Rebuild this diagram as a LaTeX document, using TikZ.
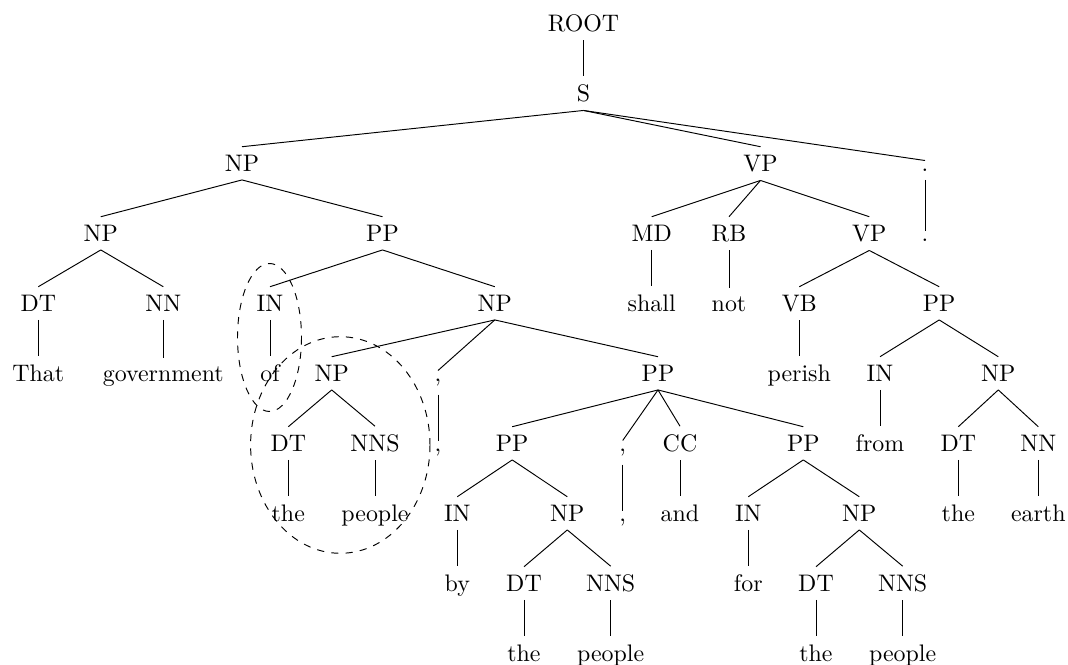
\documentclass[tikz,border=0pt]{standalone}
\begin{document}
\begin{tikzpicture}[x=0.4184pt,y=-0.4184pt,
  t/.style={anchor=base},
  edge/.style={line width=0.4pt},
  group/.style={dashed, line width=0.4pt}]
\useasboundingbox (0,0) rectangle (1068,665);
% row 0-2
\node[t] (root) at (583.5,31.5) {ROOT};
\node[t] (s) at (583.5,101.5) {S};
\node[t] (np1) at (242,171.5) {NP};
\node[t] (vp1) at (760.5,171.5) {VP};
\node[t] (pd1) at (925,171.5) {.};
% row 3
\node[t] (np2) at (100.8,241.5) {NP};
\node[t] (pp1) at (382.5,241.5) {PP};
\node[t] (md) at (651.7,241.5) {MD};
\node[t] (rb) at (729,241.5) {RB};
\node[t] (vp2) at (869.3,241.5) {VP};
\node[t] (pd2) at (925,241.5) {.};
% row 4
\node[t] (dt1) at (38.3,311.5) {DT};
\node[t] (nn1) at (163.3,311.5) {NN};
\node[t] (in1) at (270,311.5) {IN};
\node[t] (np3) at (494.8,311.5) {NP};
\node[t] (shall) at (651.7,311.5) {shall};
\node[t] (not) at (729,311.5) {not};
\node[t] (vb) at (799.3,311.5) {VB};
\node[t] (pp2) at (939.2,311.5) {PP};
% row 5
\node[t] (that) at (38.3,381.5) {That};
\node[t] (gov) at (163.3,381.5) {government};
\node[t] (of) at (270,381.5) {of};
\node[t] (np4) at (331.7,381.5) {NP};
\node[t] (cm1) at (438,381.5) {,};
\node[t] (pp3) at (658,381.5) {PP};
\node[t] (perish) at (799.3,381.5) {perish};
\node[t] (in2) at (880,381.5) {IN};
\node[t] (np5) at (998.3,381.5) {NP};
% row 6
\node[t] (dt2) at (288.3,451.5) {DT};
\node[t] (nns1) at (375,451.5) {NNS};
\node[t] (cm2) at (438,451.5) {,};
\node[t] (pp4) at (512.2,451.5) {PP};
\node[t] (cm3) at (622.7,451.5) {,};
\node[t] (cc) at (680,451.5) {CC};
\node[t] (pp5) at (803.3,451.5) {PP};
\node[t] (from) at (880,451.5) {from};
\node[t] (dt3) at (958.3,451.5) {DT};
\node[t] (nn2) at (1038.3,451.5) {NN};
% row 7
\node[t] (the1) at (288.3,521.5) {the};
\node[t] (people1) at (375,521.5) {people};
\node[t] (in3) at (457.3,521.5) {IN};
\node[t] (np6) at (567.3,521.5) {NP};
\node[t] (cm4) at (622.7,521.5) {,};
\node[t] (and) at (680,521.5) {and};
\node[t] (in4) at (748.3,521.5) {IN};
\node[t] (np7) at (859.3,521.5) {NP};
\node[t] (the2) at (958.3,521.5) {the};
\node[t] (earth) at (1038.3,521.5) {earth};
% row 8
\node[t] (by) at (457.3,591.5) {by};
\node[t] (dt4) at (524,591.5) {DT};
\node[t] (nns2) at (610.7,591.5) {NNS};
\node[t] (for) at (748.3,591.5) {for};
\node[t] (dt5) at (816,591.5) {DT};
\node[t] (nns3) at (902.7,591.5) {NNS};
% row 9
\node[t] (the3) at (524,661.5) {the};
\node[t] (people2) at (610.7,661.5) {people};
\node[t] (the4) at (816,661.5) {the};
\node[t] (people3) at (902.7,661.5) {people};
% tree edges, parent/child
\foreach \p/\c in {root/s, s/np1, s/vp1, s/pd1,
  np1/np2, np1/pp1, vp1/md, vp1/rb, vp1/vp2, pd1/pd2,
  np2/dt1, np2/nn1, pp1/in1, pp1/np3, md/shall, rb/not, vp2/vb, vp2/pp2,
  dt1/that, nn1/gov, in1/of, np3/np4, np3/cm1, np3/pp3, vb/perish, pp2/in2, pp2/np5,
  np4/dt2, np4/nns1, cm1/cm2, pp3/pp4, pp3/cm3, pp3/cc, pp3/pp5, in2/from, np5/dt3, np5/nn2,
  dt2/the1, nns1/people1, pp4/in3, pp4/np6, cm3/cm4, cc/and, pp5/in4, pp5/np7, dt3/the2, nn2/earth,
  in3/by, np6/dt4, np6/nns2, in4/for, np7/dt5, np7/nns3,
  dt4/the3, nns2/people2, dt5/the4, nns3/people3}
  \draw[edge] (\p.south) -- (\c.north);
% dashed groupings
\draw[group] (269.5,337.5) ellipse [x radius=32, y radius=74];
\draw[group] (340.3,445) ellipse [x radius=89.7, y radius=108.3];
\end{tikzpicture}
\end{document}
